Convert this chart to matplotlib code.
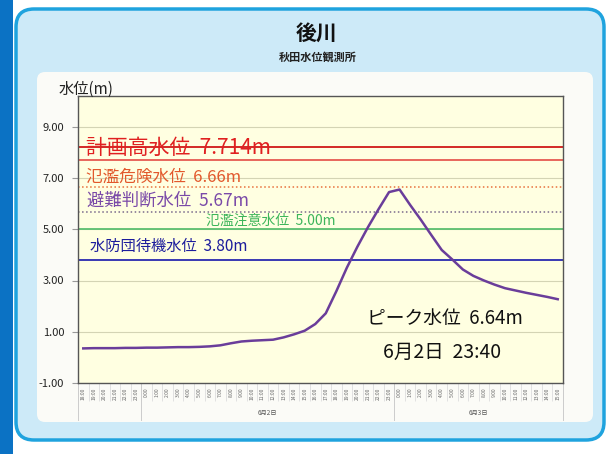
"""Water level chart for 後川 (秋田水位観測所)."""

import matplotlib
matplotlib.use("Agg")
import matplotlib.pyplot as plt
import matplotlib.transforms as mtransforms
from matplotlib.patches import FancyBboxPatch, Rectangle

plt.rcParams["font.family"] = ["Noto Sans CJK JP", "DejaVu Sans"]

# ---- data -------------------------------------------------------------
hours = list(range(18, 24)) + list(range(0, 24)) + list(range(0, 16))
hour_labels = [f"{h}:00" for h in hours]
day_names = ["6月2日", "6月3日"]
day_bounds = [5.5, 29.5, 45.5]

levels = [0.35, 0.36, 0.36, 0.36, 0.37, 0.37, 0.38, 0.38, 0.39, 0.40,
          0.40, 0.41, 0.43, 0.47, 0.55, 0.62, 0.65, 0.67, 0.69, 0.78,
          0.90, 1.04, 1.30, 1.72, 2.58, 3.50, 4.32, 5.08, 5.78, 6.45,
          6.55, 5.95, 5.38, 4.78, 4.19, 3.82, 3.43, 3.18, 3.00, 2.84,
          2.70, 2.61, 2.52, 2.44, 2.36, 2.27]

thresholds = [8.22, 7.714, 6.66, 5.67, 5.00, 3.80]
threshold_colors = ["#d01818", "#e65a52", "#e8703c", "#7a6a8c", "#5cc070", "#2a2ab0"]
threshold_styles = ["-", "-", ":", ":", "-", "-"]

threshold_texts = ["計画高水位  7.714m", "氾濫危険水位  6.66m", "避難判断水位  5.67m",
                   "氾濫注意水位  5.00m", "水防団待機水位  3.80m"]
text_x = [0.3, 0.3, 0.4, 11.6, 0.6]
text_y = [8.18, 7.02, 6.12, 5.34, 4.33]
text_size = [15, 12, 12.5, 10, 11]
text_colors = ["#e02020", "#e2582c", "#7a4aa8", "#3cb55a", "#1c1c9c"]

peak_lines = ["ピーク水位  6.64m", "6月2日  23:40"]

W, H = 609, 454
fig = plt.figure(figsize=(W / 100, H / 100), dpi=100)
fig.patch.set_facecolor("white")

# ---- background frame (pixel coords) ----------------------------------
bg = fig.add_axes([0, 0, 1, 1], zorder=0)
bg.set_xlim(0, W)
bg.set_ylim(H, 0)
bg.axis("off")
bg.add_patch(Rectangle((0, 0), 12.5, H, color="#0b72c4", lw=0))
bg.add_patch(FancyBboxPatch((16, 9), 588, 431,
                            boxstyle="round,pad=0,rounding_size=18",
                            facecolor="#cdeaf8", edgecolor="#1fa3de", lw=2.5))
bg.add_patch(FancyBboxPatch((37, 72), 556, 350,
                            boxstyle="round,pad=0,rounding_size=8",
                            facecolor="#fbfbf7", edgecolor="none"))

fig.text(317 / W, 1 - 33 / H, "後川", ha="center", va="center",
         fontsize=15, fontweight="bold", color="#111111")
fig.text(318 / W, 1 - 57 / H, "秋田水位観測所", ha="center", va="center",
         fontsize=8, fontweight="bold", color="#222222")
fig.text(59 / W, 1 - 89 / H, "水位(m)", ha="left", va="center",
         fontsize=11, color="#222222")

# ---- chart ------------------------------------------------------------
ax = fig.add_axes([78 / W, 1 - 383 / H, (563 - 78) / W, (383 - 96) / H], zorder=2)
ax.set_facecolor("#ffffe1")
ax.set_xlim(-0.5, len(levels) - 0.5)
ax.set_ylim(-1, 10.2)

ax.set_yticks([-1, 1, 3, 5, 7, 9])
ax.set_yticklabels([f"{v:.2f}" for v in [-1, 1, 3, 5, 7, 9]])
ax.yaxis.grid(True, color="#d4d4b4", lw=0.8)
ax.set_axisbelow(True)
ax.tick_params(axis="y", length=4, color="#999999", labelsize=8, labelcolor="#222222", pad=6)

ax.set_xticks(range(len(hour_labels)))
ax.set_xticklabels(hour_labels, rotation=90, fontsize=3.5, color="#666666")
ax.set_xticks([i - 0.5 for i in range(len(hour_labels) + 1)], minor=True)
ax.tick_params(axis="x", which="major", length=0, pad=3)
ax.tick_params(axis="x", which="minor", length=13, color="#dddddd", width=0.6)

for sp in ax.spines.values():
    sp.set_color("#555555")
    sp.set_linewidth(1)

for y, c, ls in zip(thresholds, threshold_colors, threshold_styles):
    ax.axhline(y, color=c, ls=ls, lw=1.3 if ls == "-" else 1.1, zorder=2)

for s, x, y, fs, c in zip(threshold_texts, text_x, text_y, text_size, text_colors):
    ax.text(x, y, s, ha="left", va="center", fontsize=fs, color=c, zorder=3)

ax.plot(range(len(levels)), levels, color="#6a3d9a", lw=1.8, zorder=4)

ax.text(26.9, 1.53, peak_lines[0], ha="left", va="center", fontsize=13.5, color="#111111")
ax.text(28.4, 0.20, peak_lines[1], ha="left", va="center", fontsize=14, color="#111111")

# day grouping under the hour labels
trans = mtransforms.blended_transform_factory(ax.transData, ax.transAxes)
for x in [-0.5] + day_bounds:
    ax.plot([x, x], [0, -0.13], transform=trans, color="#cccccc", lw=0.7, clip_on=False)
for name, a, b in zip(day_names, day_bounds[:-1], day_bounds[1:]):
    ax.text((a + b) / 2, -0.105, name, transform=trans, ha="center", va="center",
            fontsize=4.5, color="#555555")

fig.savefig("out.png", dpi=100)
